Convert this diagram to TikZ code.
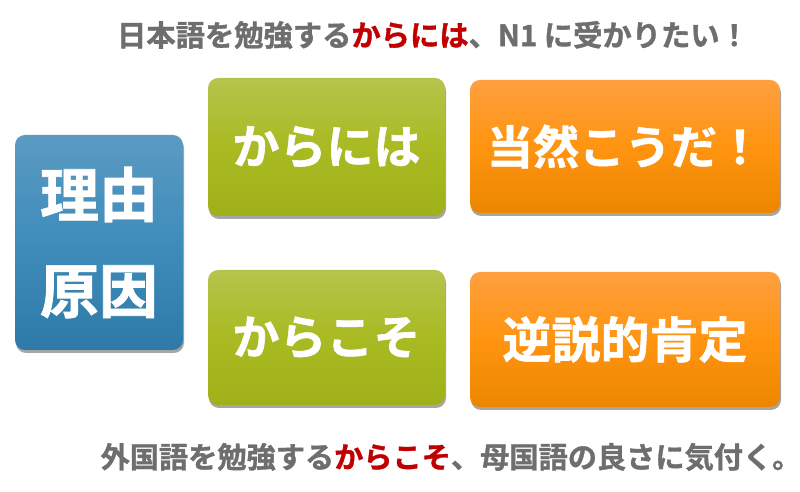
\documentclass[tikz,border=0pt]{standalone}
\usepackage{fontspec}
\setmainfont{Noto Sans CJK JP}[BoldFont={Noto Sans CJK JP Bold}, BoldFeatures={FakeBold=1.2}]
\usetikzlibrary{shadows}
\definecolor{txtgray}{HTML}{6E6E6E}
\definecolor{txtred}{HTML}{C00000}
\definecolor{blueT}{HTML}{5A9BC2}
\definecolor{blueM}{HTML}{3F8CBB}
\definecolor{blueB}{HTML}{2E79A7}
\definecolor{greenT}{HTML}{B6C44C}
\definecolor{greenM}{HTML}{A9BA22}
\definecolor{greenB}{HTML}{A0B01A}
\definecolor{orangeT}{HTML}{FFA040}
\definecolor{orangeM}{HTML}{FF9410}
\definecolor{orangeB}{HTML}{EC8600}
\tikzset{
  box/.style={rounded corners=10pt, inner sep=0pt, align=center,
    text=white, font=\bfseries,
    drop shadow={shadow xshift=1pt, shadow yshift=-3pt, opacity=0.35, fill=black}},
  bluebox/.style={box, top color=blueT, bottom color=blueB, middle color=blueM},
  greenbox/.style={box, top color=greenT, bottom color=greenB, middle color=greenM},
  orangebox/.style={box, top color=orangeT, bottom color=orangeB, middle color=orangeM},
  caption/.style={inner sep=0pt, text=txtgray, font=\fontsize{29.3}{32}\selectfont\bfseries}
}
\begin{document}
\begin{tikzpicture}[x=1pt,y=1pt]
\useasboundingbox (0,0) rectangle (800,492);
\fill[white] (0,0) rectangle (800,492);
\node[bluebox, minimum width=168pt, minimum height=215pt,
  font=\fontsize{59}{96}\selectfont\bfseries] (riyu) at (99,249.5) {理由\\原因};
\node[greenbox, minimum width=237pt, minimum height=138pt,
  font=\fontsize{47}{50}\selectfont\bfseries] (karaniwa) at (326.5,345) {からには};
\node[orangebox, minimum width=310pt, minimum height=133pt,
  font=\fontsize{46}{50}\selectfont\bfseries] (touzen) at (625,345.5) {当然こうだ！};
\node[greenbox, minimum width=237pt, minimum height=135pt,
  font=\fontsize{47}{50}\selectfont\bfseries] (karakoso) at (326.5,154.5) {からこそ};
\node[orangebox, minimum width=310pt, minimum height=135pt,
  font=\fontsize{49}{50}\selectfont\bfseries] (gyakusetsu) at (625,152.5) {逆説的肯定};
\node[caption] (top) at (433,457) {日本語を勉強する\textcolor{txtred}{からには}、N1 に受かりたい！};
\node[caption, font=\fontsize{29.2}{32}\selectfont\bfseries] (bottom) at (451,35) {外国語を勉強する\textcolor{txtred}{からこそ}、母国語の良さに気付く。};
\end{tikzpicture}
\end{document}
